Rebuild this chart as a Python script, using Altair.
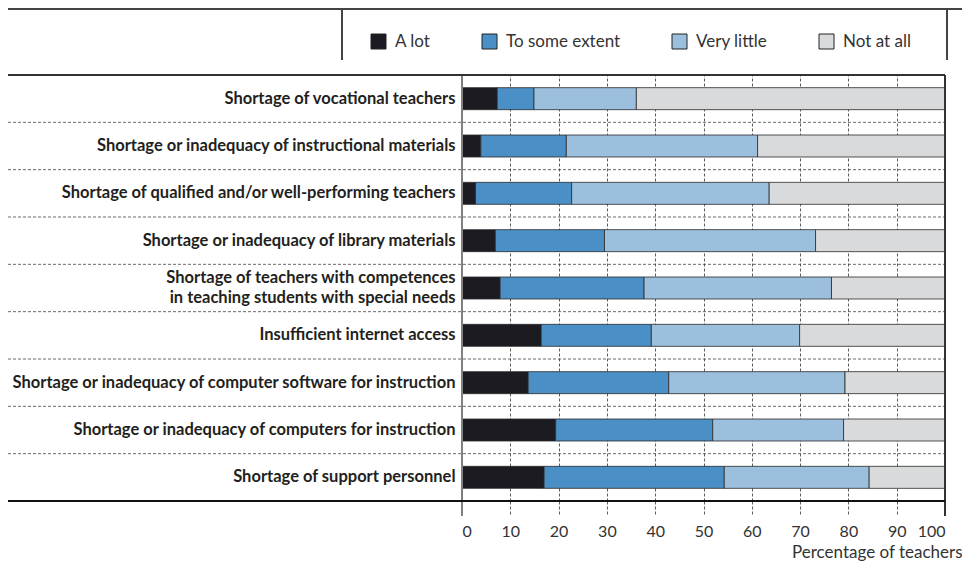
import altair as alt
import pandas as pd

categories = [
    "Shortage of vocational teachers",
    "Shortage or inadequacy of instructional materials",
    "Shortage of qualified and/or well-performing teachers",
    "Shortage or inadequacy of library materials",
    "Shortage of teachers with competences|in teaching students with special needs",
    "Insufficient internet access",
    "Shortage or inadequacy of computer software for instruction",
    "Shortage or inadequacy of computers for instruction",
    "Shortage of support personnel",
]
responses = ["A lot", "To some extent", "Very little", "Not at all"]
colors = ["#1c1b21", "#4a8fc5", "#9bbfdc", "#d9dadc"]

a_lot = [7.3, 3.9, 2.8, 6.9, 7.9, 16.4, 13.7, 19.4, 17.0]
to_some_extent = [7.6, 17.7, 19.9, 22.6, 29.8, 22.8, 29.1, 32.5, 37.3]
very_little = [21.2, 39.6, 40.9, 43.7, 38.8, 30.7, 36.5, 27.1, 30.0]
not_at_all = [63.9, 38.8, 36.4, 26.8, 23.5, 30.1, 20.7, 21.0, 15.7]
x_ticks = [0, 10, 20, 30, 40, 50, 60, 70, 80, 90, 100]

series = [a_lot, to_some_extent, very_little, not_at_all]
rows = []
for i, c in enumerate(categories):
    for j, r in enumerate(responses):
        rows.append({"category": c, "response": r, "value": series[j][i], "order": j})
df = pd.DataFrame(rows)
sep_df = pd.DataFrame({"category": categories[1:]})

W, H = 483, 426
LEFT = 454
FONT = "Lato"

x_scale = alt.Scale(domain=[0, 100], nice=False, zero=True)
y_scale = alt.Scale(paddingInner=0, paddingOuter=0)
y_axis = alt.Axis(
    title=None, domain=False, ticks=False, labelPadding=7, labelFont=FONT,
    labelFontWeight="bold", labelFontSize=16.5, labelColor="#231f20",
    labelLimit=470, labelExpr="split(datum.label, '|')", labelLineHeight=20,
    labelOffset={"condition": {"test": "indexof(datum.value, '|') >= 0", "value": -10}, "value": 0},
)

bars = alt.Chart(df).mark_bar(size=22, stroke="#2a2a2a", strokeWidth=0.8).encode(
    x=alt.X(
        "value:Q",
        stack="zero",
        scale=x_scale,
        axis=alt.Axis(
            values=x_ticks, grid=True, gridDash=[3, 2], gridColor="#333333", gridWidth=0.8,
            domain=False, tickSize=15, tickDash=[3, 2], tickColor="#333333", tickWidth=0.8,
            labelPadding=7, labelFont=FONT, labelFontSize=16, labelColor="#333333",
            title="Percentage of teachers", titleFont=FONT, titleFontSize=17,
            titleFontWeight="normal", titleColor="#333333", titleAnchor="end",
            titleAlign="right", titleX=W + 17, titleY=56, titleBaseline="alphabetic",
        ),
    ),
    y=alt.Y("category:N", sort=categories, scale=y_scale, axis=y_axis),
    color=alt.Color(
        "response:N",
        scale=alt.Scale(domain=responses, range=colors),
        legend=alt.Legend(
            title=None, orient="none", legendX=-92, legendY=-42, direction="horizontal",
            columnPadding=49, symbolType="square", symbolSize=225,
            symbolStrokeColor="#222222", symbolStrokeWidth=1, labelFont=FONT,
            labelFontSize=17, labelColor="#333333", labelOffset=8, padding=0,
        ),
    ),
    order=alt.Order("order:Q"),
)

separators = alt.Chart(sep_df).mark_rule(strokeDash=[3, 2], color="#444444", strokeWidth=0.8).encode(
    y=alt.Y("category:N", sort=categories, scale=y_scale, bandPosition=0, axis=y_axis),
    x=alt.value(-LEFT),
    x2=alt.value(W),
)

zero_line = alt.Chart(df).mark_rule(color="#808080", strokeWidth=1.5).encode(
    x=alt.datum(0), y=alt.value(0), y2=alt.value(H + 15)
)
right_line = alt.Chart(df).mark_rule(color="#333333", strokeWidth=1.5).encode(
    x=alt.datum(100), y=alt.value(0), y2=alt.value(H + 15)
)
top_line = alt.Chart(df).mark_rule(color="#333333", strokeWidth=1.5).encode(
    y=alt.value(0), x=alt.value(-LEFT), x2=alt.value(W)
)
bottom_line = alt.Chart(df).mark_rule(color="#111111", strokeWidth=2.2).encode(
    y=alt.value(H), x=alt.value(-LEFT), x2=alt.value(W)
)
box_top = alt.Chart(df).mark_rule(color="#444444", strokeWidth=1.2).encode(
    y=alt.value(-66), x=alt.value(-LEFT), x2=alt.value(W + 17)
)
box_left = alt.Chart(df).mark_rule(color="#444444", strokeWidth=1).encode(
    x=alt.value(-120), y=alt.value(-66), y2=alt.value(-15)
)
box_right = alt.Chart(df).mark_rule(color="#444444", strokeWidth=1).encode(
    x=alt.value(W + 2), y=alt.value(-66), y2=alt.value(-15)
)

chart = alt.layer(
    bars, separators, zero_line, right_line, top_line, bottom_line, box_top, box_left, box_right
).properties(
    width=W,
    height=H,
    autosize=alt.AutoSizeParams(type="none"),
    padding={"left": LEFT, "top": 67, "right": 17, "bottom": 60},
    background="white",
).configure_view(stroke=None)

chart.save("out.html", embed_options={"renderer": "svg", "actions": False})
